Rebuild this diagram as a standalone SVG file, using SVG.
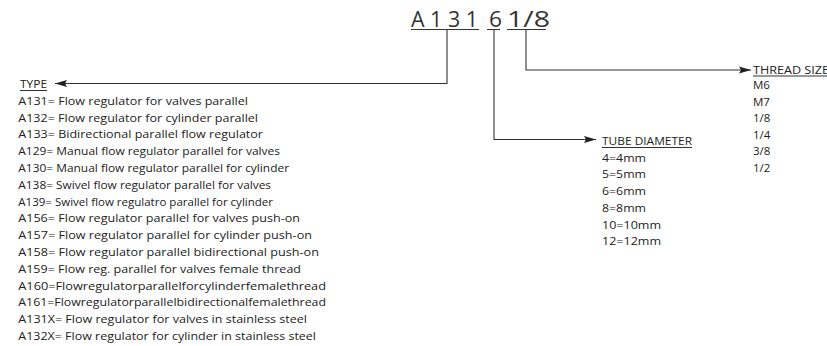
<svg xmlns="http://www.w3.org/2000/svg" width="827" height="346" viewBox="0 0 827 346">
<defs>
<style>
text{font-family:"Open Sans","Noto Sans","Liberation Sans",sans-serif;font-size:11.5px;fill:#222}
.title{font-size:21.5px;fill:#333}
.ul{stroke:#333;stroke-width:1}
.conn{fill:none;stroke:#333;stroke-width:1.1}
</style>
<marker id="arr" markerUnits="userSpaceOnUse" markerWidth="13" markerHeight="8" refX="12" refY="4" orient="auto">
<path d="M0,0.6 L12,4 L0,7.4 L2,4 z" fill="#222"/>
</marker>
</defs>
<rect width="827" height="346" fill="#fff"/>
<g id="code">
<text class="title" x="411" y="27" textLength="67" lengthAdjust="spacingAndGlyphs">A 1 3 1</text>
<text class="title" x="489" y="27" textLength="13" lengthAdjust="spacingAndGlyphs">6</text>
<text class="title" x="507" y="27" textLength="43" lengthAdjust="spacingAndGlyphs">1/8</text>
<line class="ul" x1="411" y1="29.5" x2="479" y2="29.5"/>
<line class="ul" x1="487" y1="29.5" x2="500" y2="29.5"/>
<line class="ul" x1="507" y1="29.5" x2="546" y2="29.5"/>
</g>
<g id="connectors">
<polyline class="conn" points="447,30 447,83.5 55,83.5" marker-end="url(#arr)"/>
<polyline class="conn" points="494,30 494,139.5 596,139.5" marker-end="url(#arr)"/>
<polyline class="conn" points="526,30 526,70 751,70" marker-end="url(#arr)"/>
</g>
<g id="type">
<text x="20" y="88" textLength="27" lengthAdjust="spacingAndGlyphs">TYPE</text>
<line class="ul" x1="20" y1="90.5" x2="47" y2="90.5"/>
<text x="18.3" y="104.7" textLength="229.7" lengthAdjust="spacingAndGlyphs">A131= Flow regulator for valves parallel</text>
<text x="18.3" y="121.5" textLength="239.7" lengthAdjust="spacingAndGlyphs">A132= Flow regulator for cylinder parallel</text>
<text x="18.3" y="138.3" textLength="244.7" lengthAdjust="spacingAndGlyphs">A133= Bidirectional parallel flow regulator</text>
<text x="18.3" y="155.1" textLength="261.7" lengthAdjust="spacingAndGlyphs">A129= Manual flow regulator parallel for valves</text>
<text x="18.3" y="171.9" textLength="270.7" lengthAdjust="spacingAndGlyphs">A130= Manual flow regulator parallel for cylinder</text>
<text x="18.3" y="188.7" textLength="252.7" lengthAdjust="spacingAndGlyphs">A138= Swivel flow regulator parallel for valves</text>
<text x="18.3" y="205.5" textLength="254.7" lengthAdjust="spacingAndGlyphs">A139= Swivel flow regulatro parallel for cylinder</text>
<text x="18.3" y="222.3" textLength="281.7" lengthAdjust="spacingAndGlyphs">A156= Flow regulator parallel for valves push-on</text>
<text x="18.3" y="239.1" textLength="293.7" lengthAdjust="spacingAndGlyphs">A157= Flow regulator parallel for cylinder push-on</text>
<text x="18.3" y="255.9" textLength="300.7" lengthAdjust="spacingAndGlyphs">A158= Flow regulator parallel bidirectional push-on</text>
<text x="18.3" y="272.7" textLength="282.7" lengthAdjust="spacingAndGlyphs">A159= Flow reg. parallel for valves female thread</text>
<text x="18.3" y="289.5" textLength="307.7" lengthAdjust="spacingAndGlyphs">A160=Flowregulatorparallelforcylinderfemalethread</text>
<text x="18.3" y="306.3" textLength="307.7" lengthAdjust="spacingAndGlyphs">A161=Flowregulatorparallelbidirectionalfemalethread</text>
<text x="18.3" y="323.1" textLength="288.7" lengthAdjust="spacingAndGlyphs">A131X= Flow regulator for valves in stainless steel</text>
<text x="18.3" y="339.9" textLength="297.7" lengthAdjust="spacingAndGlyphs">A132X= Flow regulator for cylinder in stainless steel</text>
</g>
<g id="tube">
<text x="602" y="145" textLength="90" lengthAdjust="spacingAndGlyphs">TUBE DIAMETER</text>
<line class="ul" x1="602" y1="147.5" x2="692" y2="147.5"/>
<text x="602" y="161.7" textLength="44" lengthAdjust="spacingAndGlyphs">4=4mm</text>
<text x="602" y="178.4" textLength="44" lengthAdjust="spacingAndGlyphs">5=5mm</text>
<text x="602" y="195.1" textLength="44" lengthAdjust="spacingAndGlyphs">6=6mm</text>
<text x="602" y="211.8" textLength="44" lengthAdjust="spacingAndGlyphs">8=8mm</text>
<text x="602" y="228.5" textLength="59" lengthAdjust="spacingAndGlyphs">10=10mm</text>
<text x="602" y="245.2" textLength="59" lengthAdjust="spacingAndGlyphs">12=12mm</text>
</g>
<g id="thread">
<text x="753" y="73.5" textLength="76" lengthAdjust="spacingAndGlyphs">THREAD SIZE</text>
<line class="ul" x1="753" y1="76" x2="827" y2="76"/>
<text x="753" y="89.3">M6</text>
<text x="753" y="105.8">M7</text>
<text x="753" y="122.3">1/8</text>
<text x="753" y="138.8">1/4</text>
<text x="753" y="155.3">3/8</text>
<text x="753" y="171.8">1/2</text>
</g>
</svg>
